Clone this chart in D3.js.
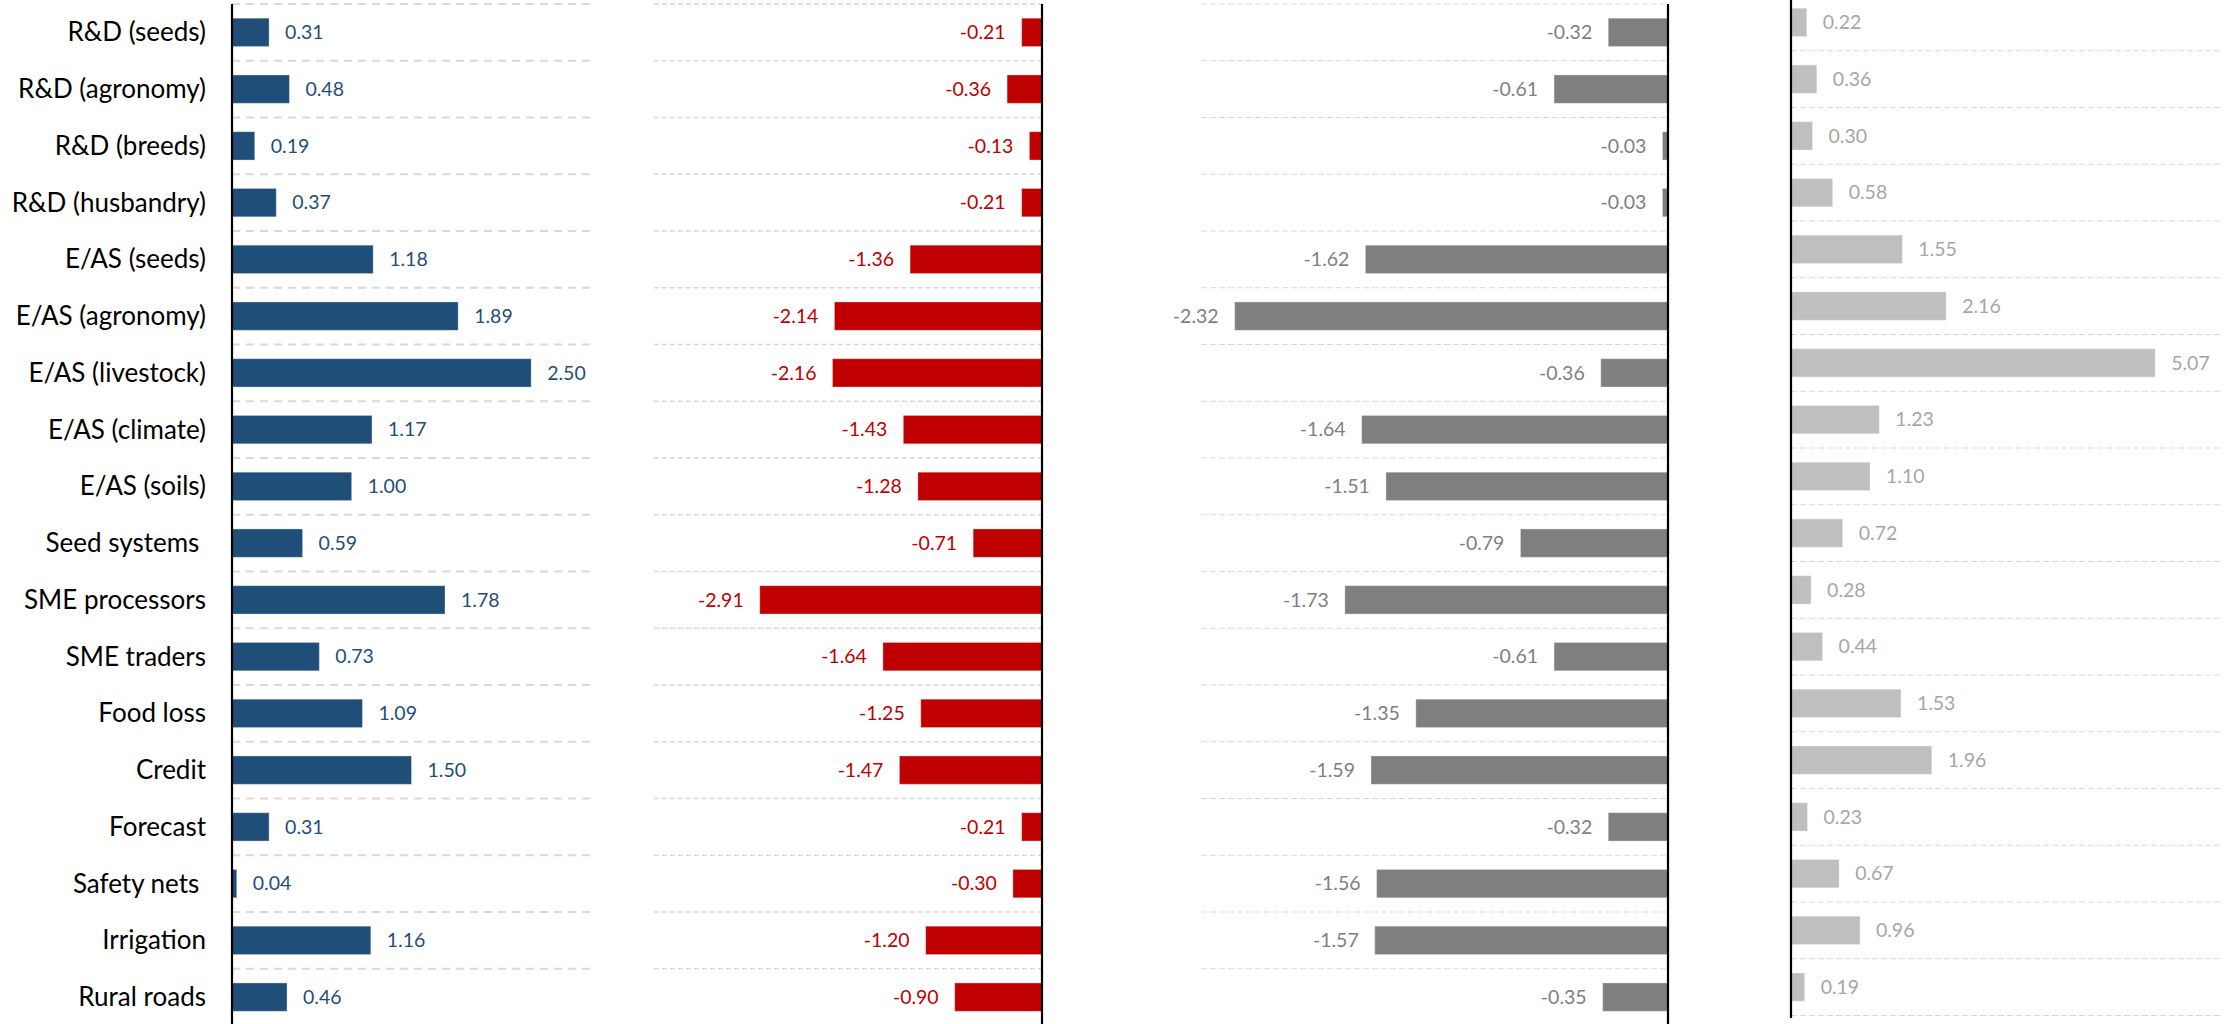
<!DOCTYPE html>
<html>
<head>
<meta charset="utf-8">
<script src="https://cdn.jsdelivr.net/npm/d3@7"></script>
<style>
  html, body { margin: 0; padding: 0; background: #fff; }
  svg { display: block; }
  text { font-family: Lato, "Open Sans", sans-serif; white-space: pre; }
</style>
</head>
<body>
<svg id="chart" width="2231" height="1024"></svg>
<script>
// Intervention categories (trailing spaces kept as in the source labels)
const categories = [
  "R&D (seeds)", "R&D (agronomy)", "R&D (breeds)", "R&D (husbandry)",
  "E/AS (seeds)", "E/AS (agronomy)", "E/AS (livestock)", "E/AS (climate)",
  "E/AS (soils)", "Seed systems ", "SME processors", "SME traders",
  "Food loss", "Credit", "Forecast", "Safety nets ", "Irrigation", "Rural roads"
];

// Series values, one array per panel
const seriesA = [0.31, 0.48, 0.19, 0.37, 1.18, 1.89, 2.50, 1.17, 1.00, 0.59, 1.78, 0.73, 1.09, 1.50, 0.31, 0.04, 1.16, 0.46];
const seriesB = [-0.21, -0.36, -0.13, -0.21, -1.36, -2.14, -2.16, -1.43, -1.28, -0.71, -2.91, -1.64, -1.25, -1.47, -0.21, -0.30, -1.20, -0.90];
const seriesC = [-0.32, -0.61, -0.03, -0.03, -1.62, -2.32, -0.36, -1.64, -1.51, -0.79, -1.73, -0.61, -1.35, -1.59, -0.32, -1.56, -1.57, -0.35];
const seriesD = [0.22, 0.36, 0.30, 0.58, 1.55, 2.16, 5.07, 1.23, 1.10, 0.72, 0.28, 0.44, 1.53, 1.96, 0.23, 0.67, 0.96, 0.19];

// Axis domains per panel
const domainA = [0, 3];
const domainB = [-4, 0];
const domainC = [-2.5, 0];
const domainD = [0, 6];

const svg = d3.select("#chart");
const rowH = 56.75;

// Layout and styling of each panel
const panels = [
  { values: seriesA, domain: domainA, x0: 232, x1: 591, top: 4, axisTop: 4, axisBottom: 1024,
    bar: "#1F4E79", label: "#1F4E79", font: 19.5, dash: "8,6", gridW: 2, grid: "#D9D9D9" },
  { values: seriesB, domain: domainB, x0: 654, x1: 1042, top: 4, axisTop: 4, axisBottom: 1024,
    bar: "#C00000", label: "#C00000", font: 19.5, dash: "5,3", gridW: 1.5, grid: "#D9D9D9" },
  { values: seriesC, domain: domainC, x0: 1201, x1: 1668, top: 4, axisTop: 4, axisBottom: 1024,
    bar: "#7F7F7F", label: "#7F7F7F", font: 19.5, dash: "6,3", gridW: 1, grid: "#D9D9D9" },
  { values: seriesD, domain: domainD, x0: 1791, x1: 2222, top: -6, axisTop: 0, axisBottom: 1018,
    bar: "#BFBFBF", label: "#A6A6A6", font: 19.5, dash: "6,3", gridW: 1, grid: "#D9D9D9" }
];

panels.forEach((p, pi) => {
  const g = svg.append("g");
  const x = d3.scaleLinear().domain(p.domain).range([p.x0, p.x1]);
  const y = d3.scaleBand()
    .domain(categories)
    .range([p.top, p.top + rowH * categories.length])
    .paddingInner(0.5).paddingOuter(0.25);
  const zeroX = x(0);

  // dashed horizontal gridlines between rows
  const gridYs = d3.range(categories.length + 1).map(i => p.top + i * rowH);
  g.selectAll("line.grid").data(gridYs).join("line")
    .attr("class", "grid")
    .attr("x1", p.x0).attr("x2", p.x1)
    .attr("y1", d => d).attr("y2", d => d)
    .attr("stroke", p.grid)
    .attr("stroke-width", p.gridW)
    .attr("stroke-dasharray", p.dash);

  // bars
  g.selectAll("rect.bar").data(p.values).join("rect")
    .attr("class", "bar")
    .attr("x", d => Math.min(x(d), zeroX))
    .attr("width", d => Math.abs(x(d) - zeroX))
    .attr("y", (d, i) => y(categories[i]))
    .attr("height", y.bandwidth())
    .attr("fill", p.bar)
    .attr("stroke", "rgba(255,255,255,0.35)")
    .attr("stroke-width", 1);

  // value labels (plain hyphen for negatives)
  g.selectAll("text.val").data(p.values).join("text")
    .attr("class", "val")
    .attr("x", d => d >= 0 ? x(d) + 16 : x(d) - 16)
    .attr("y", (d, i) => y(categories[i]) + y.bandwidth() / 2)
    .attr("dy", "0.35em")
    .attr("text-anchor", d => d >= 0 ? "start" : "end")
    .attr("font-size", p.font)
    .attr("fill", p.label)
    .text(d => d.toFixed(2));

  // vertical zero axis
  g.append("line")
    .attr("x1", zeroX).attr("x2", zeroX)
    .attr("y1", p.axisTop).attr("y2", p.axisBottom)
    .attr("stroke", "#000")
    .attr("stroke-width", 2.2);

  // category labels on the first panel
  if (pi === 0) {
    g.selectAll("text.cat").data(categories).join("text")
      .attr("class", "cat")
      .attr("x", 206)
      .attr("y", d => y(d) + y.bandwidth() / 2)
      .attr("dy", "0.35em")
      .attr("text-anchor", "end")
      .attr("font-size", 26)
      .attr("fill", "#000")
      .text(d => d);
  }
});
</script>
</body>
</html>
